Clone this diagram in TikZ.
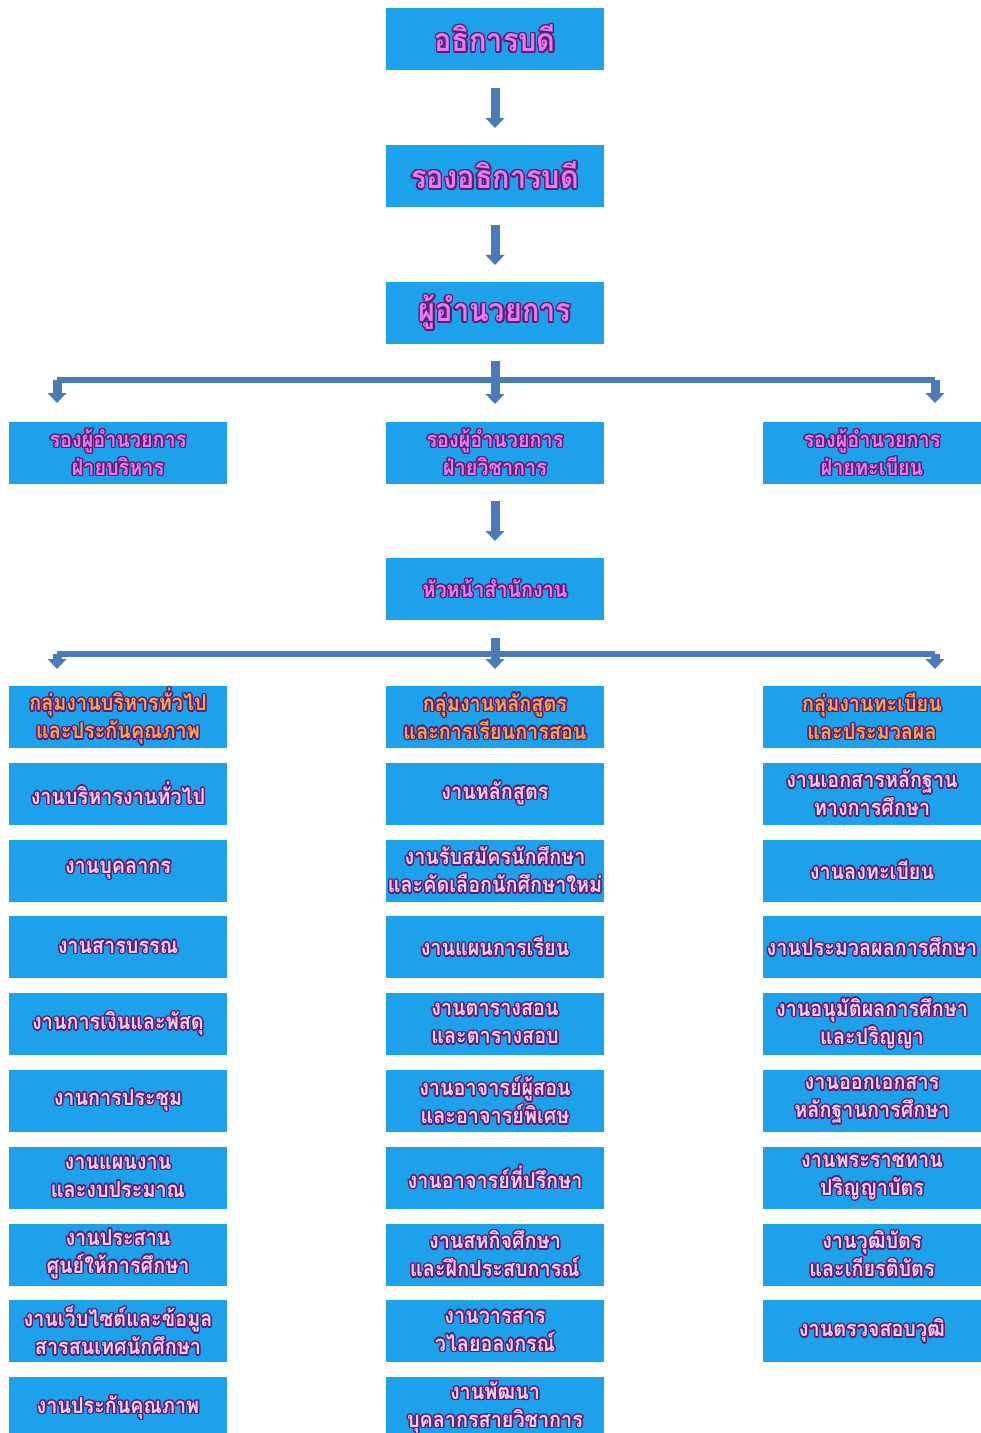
\documentclass[tikz,border=0pt]{standalone}
\usepackage{fontspec}
\setmainfont[Script=Thai,FakeStretch=0.9]{Loma}
\usepackage{contour}
\contourlength{0.7pt}
\usetikzlibrary{arrows.meta,
calc,
positioning}

\definecolor{boxblue}{HTML}{1DA1EA}
\definecolor{arrowblue}{HTML}{4A7BB7}
\definecolor{toppink}{HTML}{E67CEF}
\definecolor{itempink}{HTML}{F4CDF4}
\definecolor{grouporange}{HTML}{F7A54E}
\definecolor{rimpurple}{HTML}{5B1F72}

\newcommand{\lbl}[1]{\contour{rimpurple}{#1}}

\tikzset{
	unit/.style={fill=boxblue, minimum width=109pt, minimum height=31pt, inner sep=0pt, outer sep=0pt, align=center, text=itempink, font=\bfseries\fontsize{11}{14}\selectfont},
	head/.style={unit, text=toppink, font=\bfseries\fontsize{16}{18}\selectfont},
	deputy/.style={unit, text=toppink},
	group/.style={unit, text=grouporange},
	drop/.style={draw=arrowblue, line width=4.5pt, -{Triangle[width=9.5pt,length=5pt,line width=0pt]}},
	bar/.style={draw=arrowblue, line width=3pt}
}

\begin{document}
\begin{tikzpicture}[
				node distance=7.4pt
			]
				\useasboundingbox (0,0) rectangle (490pt,-716.5pt);
				% top of the chart
				\node [head] (rector) at (247.5pt,-19.5pt) {\lbl{อธิการบดี}};
				\node [head, below=37.5pt of rector] (vrector) {\lbl{รองอธิการบดี}};
				\node [head, below=37.5pt of vrector] (director) {\lbl{ผู้อำนวยการ}};
				\node [deputy, below=39pt of director] (vdacad) {\lbl{รองผู้อำนวยการ}\\\lbl{ฝ่ายวิชาการ}};
				\node [deputy, left=79.5pt of vdacad] (vdadmin) {\lbl{รองผู้อำนวยการ}\\\lbl{ฝ่ายบริหาร}};
				\node [deputy, right=79.5pt of vdacad] (vdreg) {\lbl{รองผู้อำนวยการ}\\\lbl{ฝ่ายทะเบียน}};
				\node [deputy, below=37pt of vdacad] (office) {\lbl{หัวหน้าสำนักงาน}};
				% groups
				\node [group, below=33pt of office] (gacad) {\lbl{กลุ่มงานหลักสูตร}\\\lbl{และการเรียนการสอน}};
				\node [group, left=79.5pt of gacad] (gadmin) {\lbl{กลุ่มงานบริหารทั่วไป}\\\lbl{และประกันคุณภาพ}};
				\node [group, right=79.5pt of gacad] (greg) {\lbl{กลุ่มงานทะเบียน}\\\lbl{และประมวลผล}};
				% left column
				\node [unit, below=of gadmin] (adm1) {\lbl{งานบริหารงานทั่วไป}};
				\node [unit, below=of adm1] (adm2) {\lbl{งานบุคลากร}};
				\node [unit, below=of adm2] (adm3) {\lbl{งานสารบรรณ}};
				\node [unit, below=of adm3] (adm4) {\lbl{งานการเงินและพัสดุ}};
				\node [unit, below=of adm4] (adm5) {\lbl{งานการประชุม}};
				\node [unit, below=of adm5] (adm6) {\lbl{งานแผนงาน}\\\lbl{และงบประมาณ}};
				\node [unit, below=of adm6] (adm7) {\lbl{งานประสาน}\\\lbl{ศูนย์ให้การศึกษา}};
				\node [unit, below=of adm7] (adm8) {\lbl{งานเว็บไซต์และข้อมูล}\\\lbl{สารสนเทศนักศึกษา}};
				\node [unit, below=of adm8] (adm9) {\lbl{งานประกันคุณภาพ}};
				% middle column
				\node [unit, below=of gacad] (acd1) {\lbl{งานหลักสูตร}};
				\node [unit, below=of acd1] (acd2) {\lbl{งานรับสมัครนักศึกษา}\\\lbl{และคัดเลือกนักศึกษาใหม่}};
				\node [unit, below=of acd2] (acd3) {\lbl{งานแผนการเรียน}};
				\node [unit, below=of acd3] (acd4) {\lbl{งานตารางสอน}\\\lbl{และตารางสอบ}};
				\node [unit, below=of acd4] (acd5) {\lbl{งานอาจารย์ผู้สอน}\\\lbl{และอาจารย์พิเศษ}};
				\node [unit, below=of acd5] (acd6) {\lbl{งานอาจารย์ที่ปรึกษา}};
				\node [unit, below=of acd6] (acd7) {\lbl{งานสหกิจศึกษา}\\\lbl{และฝึกประสบการณ์}};
				\node [unit, below=of acd7] (acd8) {\lbl{งานวารสาร}\\\lbl{วไลยอลงกรณ์}};
				\node [unit, below=of acd8] (acd9) {\lbl{งานพัฒนา}\\\lbl{บุคลากรสายวิชาการ}};
				% right column
				\node [unit, below=of greg] (reg1) {\lbl{งานเอกสารหลักฐาน}\\\lbl{ทางการศึกษา}};
				\node [unit, below=of reg1] (reg2) {\lbl{งานลงทะเบียน}};
				\node [unit, below=of reg2] (reg3) {\lbl{งานประมวลผลการศึกษา}};
				\node [unit, below=of reg3] (reg4) {\lbl{งานอนุมัติผลการศึกษา}\\\lbl{และปริญญา}};
				\node [unit, below=of reg4] (reg5) {\lbl{งานออกเอกสาร}\\\lbl{หลักฐานการศึกษา}};
				\node [unit, below=of reg5] (reg6) {\lbl{งานพระราชทาน}\\\lbl{ปริญญาบัตร}};
				\node [unit, below=of reg6] (reg7) {\lbl{งานวุฒิบัตร}\\\lbl{และเกียรติบัตร}};
				\node [unit, below=of reg7] (reg8) {\lbl{งานตรวจสอบวุฒิ}};
				% arrows
				\draw [drop, shorten <=9pt, shorten >=8.5pt] (rector) -- (vrector);
				\draw [drop, shorten <=9pt, shorten >=8.5pt] (vrector) -- (director);
				\coordinate (bar1) at ([yshift=-18pt]director.south);
				\coordinate (bar1l) at ([xshift=-219pt]bar1);
				\coordinate (bar1r) at ([xshift=220pt]bar1);
				\draw [bar] (bar1l) -- (bar1r);
				\draw [drop, shorten >=9.5pt] (bar1l) -- (bar1l |- vdadmin.north);
				\draw [drop, shorten >=9.5pt] (bar1r) -- (bar1r |- vdreg.north);
				\draw [drop, shorten <=8.5pt, shorten >=9pt] (director) -- (vdacad);
				\draw [drop, shorten <=8.5pt, shorten >=8.5pt] (vdacad) -- (office);
				\coordinate (bar2) at ([yshift=-17pt]office.south);
				\coordinate (bar2l) at ([xshift=-219pt]bar2);
				\coordinate (bar2r) at ([xshift=220pt]bar2);
				\draw [bar] (bar2l) -- (bar2r);
				\draw [drop, shorten >=8.5pt] (bar2l) -- (bar2l |- gadmin.north);
				\draw [drop, shorten >=8.5pt] (bar2r) -- (bar2r |- greg.north);
				\draw [drop, shorten <=9pt, shorten >=8.5pt] (office) -- (gacad);
			\end{tikzpicture}
\end{document}
